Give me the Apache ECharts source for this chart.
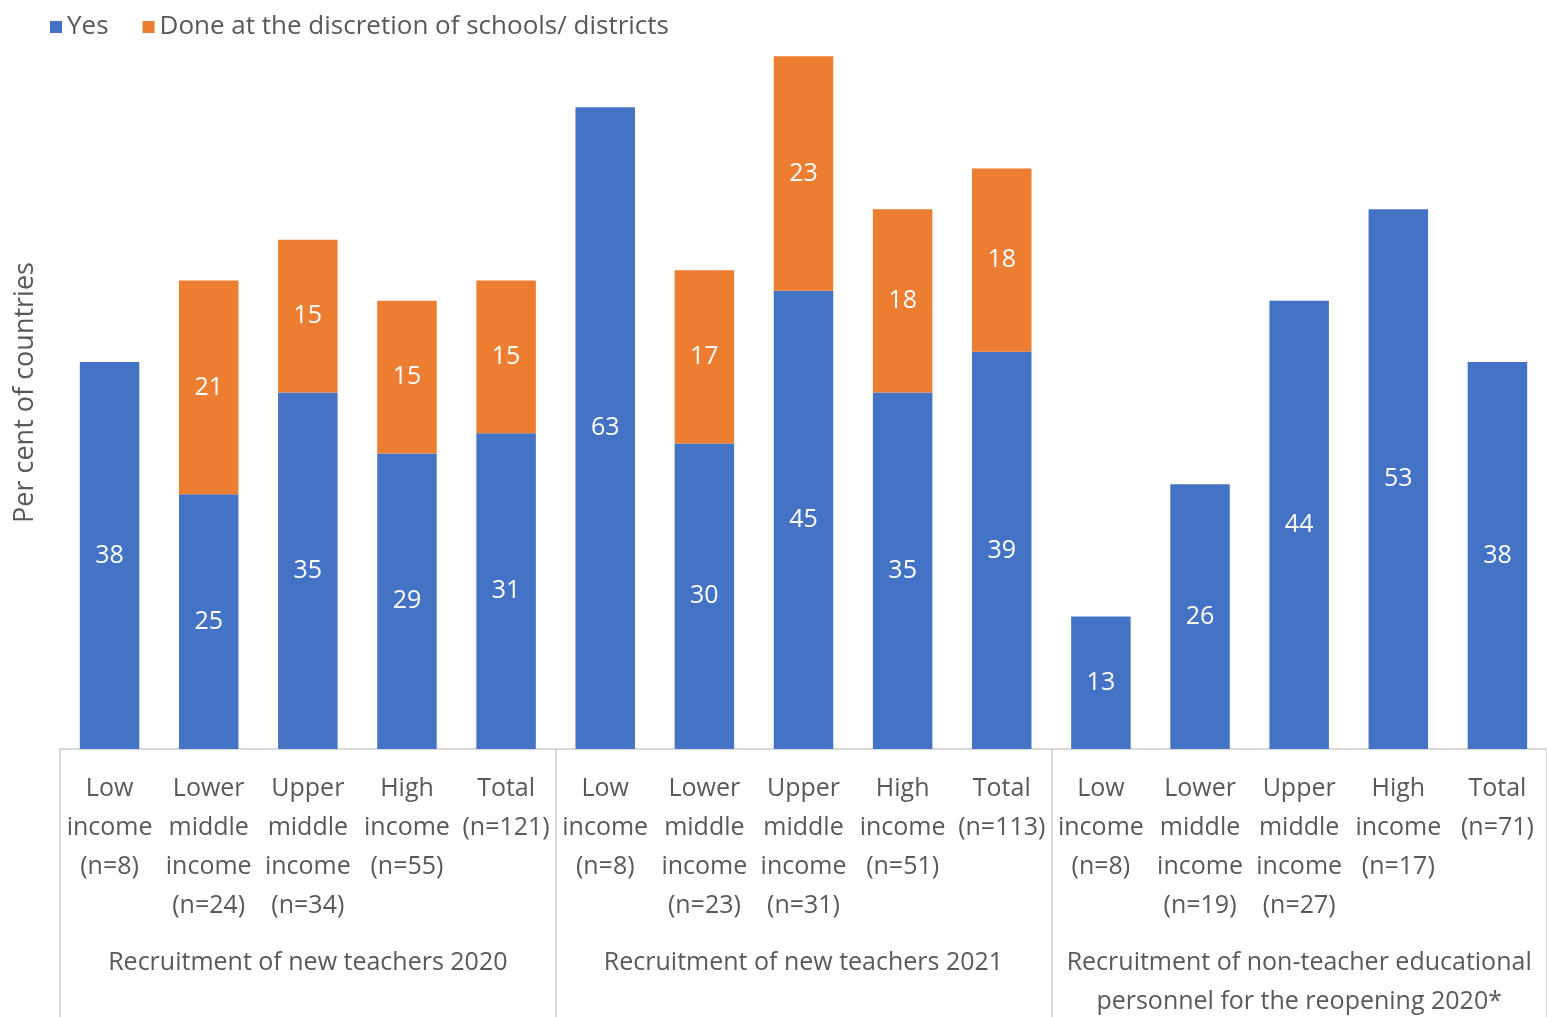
<!DOCTYPE html>
<html>
<head>
<meta charset="utf-8">
<script src="https://cdn.jsdelivr.net/npm/echarts@6/dist/echarts.min.js"></script>
<style>
  html, body { margin: 0; padding: 0; background: #ffffff; }
  #chart { width: 1547px; height: 1017px; }
</style>
</head>
<body>
<div id="chart"></div>
<script>
// Income-group categories, five per recruitment measure
const categories = [
  'Low\nincome\n(n=8)', 'Lower\nmiddle\nincome\n(n=24)', 'Upper\nmiddle\nincome\n(n=34)', 'High\nincome\n(n=55)', 'Total\n(n=121)',
  'Low\nincome\n(n=8)', 'Lower\nmiddle\nincome\n(n=23)', 'Upper\nmiddle\nincome\n(n=31)', 'High\nincome\n(n=51)', 'Total\n(n=113)',
  'Low\nincome\n(n=8)', 'Lower\nmiddle\nincome\n(n=19)', 'Upper\nmiddle\nincome\n(n=27)', 'High\nincome\n(n=17)', 'Total\n(n=71)'
];

// Recruitment measures (outer axis level)
const groups = [
  'Recruitment of new teachers 2020',
  'Recruitment of new teachers 2021',
  'Recruitment of non-teacher educational\npersonnel for the reopening 2020*'
];

// Per cent of countries
const yesValues = [38, 25, 35, 29, 31, 63, 30, 45, 35, 39, 13, 26, 44, 53, 38];
const discretionValues = [null, 21, 15, 15, 15, null, 17, 23, 18, 18, null, null, null, null, null];

const seriesNames = ['Yes', 'Done at the discretion of schools/ districts'];

const FONT = '"Open Sans", "Noto Sans", sans-serif';
const TEXT = '#595959';
const LINE = '#d9d9d9';

const chart = echarts.init(document.getElementById('chart'), null, { renderer: 'canvas' });

const barLabel = {
  show: true,
  position: 'inside',
  color: '#ffffff',
  fontSize: 25,
  fontFamily: FONT
};

const axisText = {
  interval: 0,
  color: TEXT,
  fontSize: 25,
  lineHeight: 39,
  fontFamily: FONT,
  align: 'center'
};

chart.setOption({
  animation: false,
  textStyle: { fontFamily: FONT },
  legend: {
    left: 45,
    top: 9,
    itemWidth: 12,
    itemHeight: 12,
    itemGap: 34,
    icon: 'rect',
    textStyle: { color: TEXT, fontSize: 26, fontFamily: FONT },
    data: seriesNames
  },
  grid: {
    left: 60, right: 0, top: 36, bottom: 268,
    containLabel: false,
    outerBoundsMode: 'none'
  },
  xAxis: [
    {
      type: 'category',
      data: categories,
      position: 'bottom',
      axisLine: { show: true, lineStyle: { color: LINE, width: 2 } },
      axisTick: { show: false },
      axisLabel: Object.assign({ margin: 20 }, axisText)
    },
    {
      type: 'category',
      data: groups,
      position: 'bottom',
      offset: 0,
      axisLine: { show: false },
      axisTick: { show: true, length: 270, lineStyle: { color: LINE, width: 2 } },
      axisLabel: Object.assign({ margin: 194 }, axisText)
    }
  ],
  yAxis: {
    type: 'value',
    min: 0,
    max: 70,
    name: 'Per cent of countries',
    nameLocation: 'middle',
    nameRotate: 90,
    nameGap: 21,
    nameTextStyle: { color: TEXT, fontSize: 27, fontFamily: FONT },
    axisLine: { show: false },
    axisTick: { show: false },
    axisLabel: { show: false },
    splitLine: { show: false }
  },
  series: [
    {
      name: seriesNames[0],
      type: 'bar',
      stack: 'total',
      xAxisIndex: 0,
      barWidth: '60%',
      itemStyle: { color: '#4472C4' },
      label: barLabel,
      data: yesValues
    },
    {
      name: seriesNames[1],
      type: 'bar',
      stack: 'total',
      xAxisIndex: 0,
      barWidth: '60%',
      itemStyle: { color: '#ED7D31' },
      label: barLabel,
      data: discretionValues
    }
  ]
});
</script>
</body>
</html>
